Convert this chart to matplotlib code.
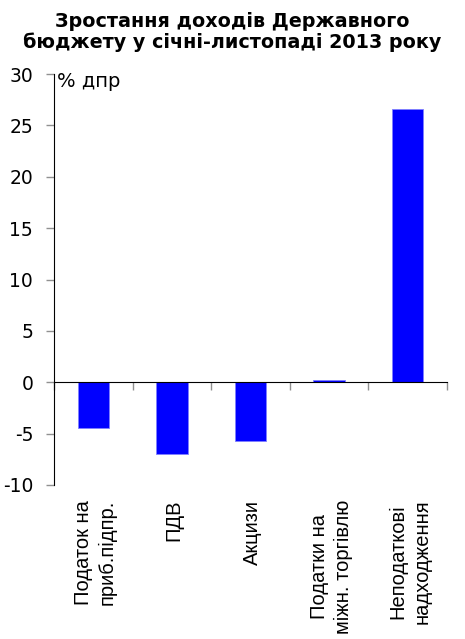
import matplotlib.pyplot as plt

plt.rcParams['axes.unicode_minus'] = False

categories = ["Податок на\nприб.підпр.", "ПДВ", "Акцизи",
              "Податки на\nміжн. торгівлю", "Неподаткові\nнадходження"]
growth = [-4.5, -7.0, -5.7, 0.2, 26.6]
yticks = list(range(-10, 31, 5))

title = "Зростання доходів Державного\nбюджету у січні-листопаді 2013 року"

fig = plt.figure(figsize=(4.65, 6.39), dpi=100)
ax = fig.add_axes([54 / 465, 1 - 485 / 639, 393 / 465, 411 / 639])

x = list(range(len(categories)))
ax.bar(x, growth, width=0.4, color='#0000ff', edgecolor='#7f7fff',
       linewidth=0.6, zorder=2)

ax.set_xlim(-0.5, len(categories) - 0.5)
ax.set_ylim(-10, 30)
ax.set_yticks(yticks)
ax.set_xticks([i - 0.5 for i in range(len(categories) + 1)])
ax.set_xticklabels([])

ax.spines['bottom'].set_position(('data', 0))
ax.spines[['top', 'right']].set_visible(False)
ax.tick_params(axis='both', direction='out', color='#909090', length=6, width=1)
ax.tick_params(axis='y', labelsize=13.5, pad=9)

for i, lab in enumerate(categories):
    ax.text(i + 0.03, -0.036, lab, transform=ax.get_xaxis_transform(),
            rotation=90, ha='center', va='top', fontsize=14.5,
            family='Liberation Sans', linespacing=1.3)

ax.text(0.008, 1.005, '% дпр', transform=ax.transAxes, va='top', fontsize=14)

fig.suptitle(title, fontsize=13.8, fontweight='bold', y=0.982, linespacing=1.12)

fig.savefig("out.png", dpi=100)
plt.close()
